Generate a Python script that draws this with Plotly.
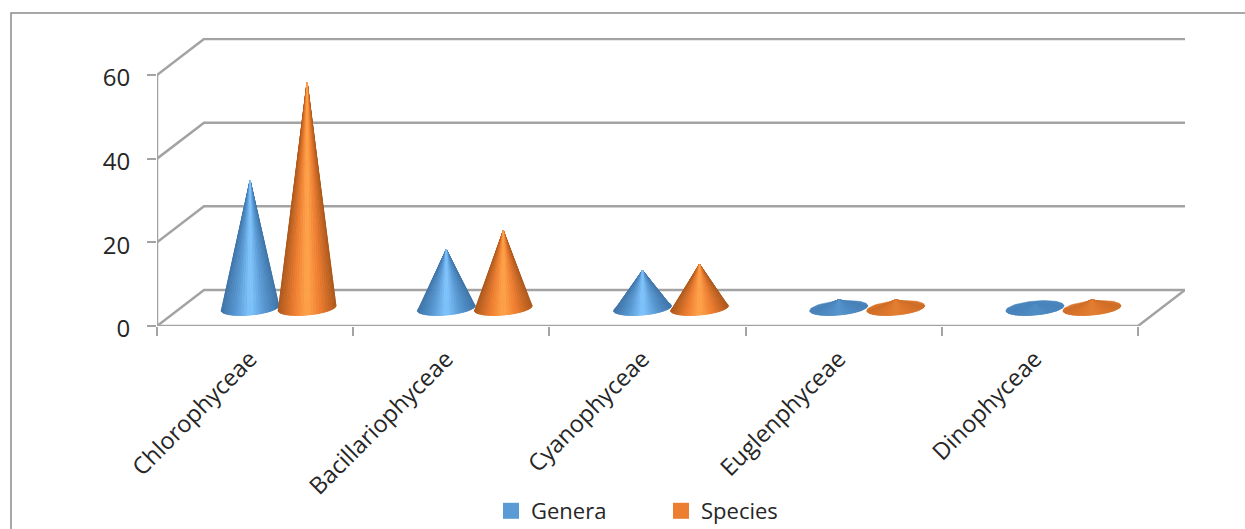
import math
import plotly.graph_objects as go

categories = ["Chlorophyceae", "Bacillariophyceae", "Cyanophyceae", "Euglenphyceae", "Dinophyceae"]
genera = [30.5, 14, 9, 2, 1]
species = [54, 18.5, 10.5, 2, 2]
y_ticks = [0, 20, 40, 60]

W, H = 1245, 529
L, R, T, B = 157, 1185, 38, 326
CAT_PX = 196.2
VAL_PX = 251 / 60
DX = 47 / CAT_PX
DY = 36 / VAL_PX
OFF = 28.5 / CAT_PX
A = 29 / CAT_PX
BASE_Y = 18 / VAL_PX
BOTTOM = 7 / VAL_PX
TILT = 2.5 / VAL_PX
N = 30
GRID = "#a3a3a3"
FONT = "Open Sans"
TEXT = "#262626"

PAL = {
    "Genera": {"base": "#5b9bd5", "edge": (62, 116, 168), "mid": (91, 155, 213), "hi": (130, 198, 255), "flat": "#4a86bd"},
    "Species": {"base": "#ed7d31", "edge": (172, 88, 28), "mid": (237, 125, 49), "hi": (255, 165, 75), "flat": "#d8742b"},
}


def mix(a, b, t):
    return tuple(a[i] + (b[i] - a[i]) * t for i in range(3))


def rgb(c):
    return "rgb(%d,%d,%d)" % tuple(round(v) for v in c)


def hex2(c):
    return tuple(int(c[i:i + 2], 16) for i in (1, 3, 5))


def shade(p, u, strength):
    t = abs(u)
    c = mix(p["hi"], p["mid"], t / 0.45) if t < 0.45 else mix(p["mid"], p["edge"], (t - 0.45) / 0.55)
    return mix(hex2(p["flat"]), c, strength)


fig = go.Figure()


def line(x, y, color=GRID, width=2.5):
    fig.add_trace(go.Scatter(x=x, y=y, mode="lines", line=dict(color=color, width=width),
                             showlegend=False, hoverinfo="skip", cliponaxis=False))


for v in y_ticks:
    line([0, DX, len(categories) + DX], [v, v + DY, v + DY])
line([0, 0], [0, 60])
line([0, len(categories), len(categories) + DX], [0, 0, DY])


def cone(cx, value, p):
    strength = min(1.0, value * VAL_PX / 35)
    ex = [cx + A * math.cos(2 * math.pi * i / 72) for i in range(73)]
    ey = [BASE_Y + BOTTOM * math.sin(2 * math.pi * i / 72) + TILT * math.cos(2 * math.pi * i / 72) for i in range(73)]
    fig.add_trace(go.Scatter(x=ex, y=ey, mode="lines", fill="toself", fillcolor=p["flat"],
                             line=dict(color=p["flat"], width=0.5), showlegend=False, hoverinfo="skip"))
    tip = (cx, BASE_Y + value)
    strips = []
    for i in range(N):
        a0 = math.pi + math.pi * i / N
        a1 = math.pi + math.pi * (i + 1) / N
        strips.append((a0, a1, math.cos((a0 + a1) / 2)))
    # paint from the silhouette inward so the bright centre stays on top near the tip
    strips.sort(key=lambda s: -abs(s[2]))
    for a0, a1, um in strips:
        col = rgb(shade(p, um, strength))
        xs = [tip[0], cx + A * math.cos(a0), cx + A * math.cos(a1), tip[0]]
        ys = [tip[1], BASE_Y + BOTTOM * math.sin(a0) + TILT * math.cos(a0),
              BASE_Y + BOTTOM * math.sin(a1) + TILT * math.cos(a1), tip[1]]
        fig.add_trace(go.Scatter(x=xs, y=ys, mode="lines", fill="toself", fillcolor=col,
                                 line=dict(color=col, width=0.8), showlegend=False, hoverinfo="skip"))


for i in range(len(categories)):
    c = i + 0.5 + DX / 2
    cone(c - OFF, genera[i], PAL["Genera"])
    cone(c + OFF, species[i], PAL["Species"])

for name in ["Genera", "Species"]:
    fig.add_trace(go.Scatter(x=[None], y=[None], mode="markers", name=name,
                             marker=dict(symbol="square", size=16, color=PAL[name]["base"])))

fig.update_layout(
    width=W, height=H, autosize=False,
    margin=dict(l=L, r=W - R, t=T, b=H - B, autoexpand=False),
    paper_bgcolor="white", plot_bgcolor="white",
    font=dict(family=FONT, color=TEXT),
    hovermode=False,
    xaxis=dict(range=[0, (R - L) / CAT_PX], tickvals=[i + 0.5 for i in range(len(categories))],
               ticktext=categories, tickangle=-45, ticks="outside", ticklen=0, tickcolor="white",
               tickfont=dict(size=23.5, family=FONT, color=TEXT), showgrid=False, zeroline=False, showline=False,
               ticklabelstandoff=9, ticklabelshift=-5,
               minor=dict(tickvals=list(range(len(categories) + 1)), ticks="outside", ticklen=9,
                          tickcolor=GRID, tickwidth=2, showgrid=False)),
    yaxis=dict(range=[0, (B - T) / VAL_PX], tickvals=y_ticks, ticks="outside", ticklen=9, tickcolor=GRID,
               tickwidth=2, tickfont=dict(size=24, family=FONT, color=TEXT), showgrid=False, zeroline=False,
               showline=False, ticklabelstandoff=12, ticklabelshift=3),
    legend=dict(orientation="h", x=(491 - L) / (R - L), xanchor="left", y=(B - 511) / (B - T), yanchor="middle",
                font=dict(size=22, family=FONT, color=TEXT), entrywidth=125, entrywidthmode="pixels",
                bgcolor="rgba(0,0,0,0)", itemclick=False, itemdoubleclick=False),
    shapes=[dict(type="rect", xref="paper", yref="paper", layer="below",
                 x0=(11 - L) / (R - L), x1=(W + 20 - L) / (R - L),
                 y0=(B - H - 20) / (B - T), y1=(B - 13) / (B - T),
                 line=dict(color="#8c8c8c", width=1.5))],
)

fig.write_html("out.html", config=dict(displayModeBar=False),
               post_script="document.body.style.margin='0';document.body.style.overflow='hidden';")
